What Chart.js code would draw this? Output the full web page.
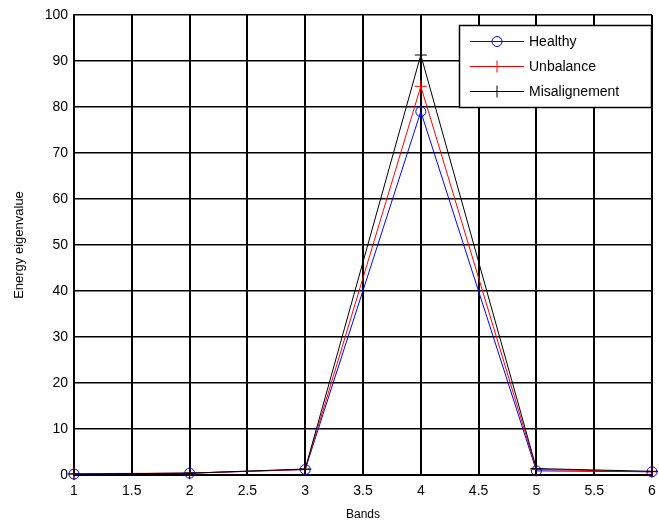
<!DOCTYPE html>
<html>
<head>
<meta charset="utf-8">
<script src="https://cdn.jsdelivr.net/npm/chart.js@4/dist/chart.umd.min.js"></script>
<style>
html,body{margin:0;padding:0;background:#fff;}
#wrap{width:659px;height:522px;position:relative;}
</style>
</head>
<body>
<div id="wrap"><canvas id="c" width="659" height="522"></canvas></div>
<script>
const bands = [1, 2, 3, 4, 5, 6];
const healthy = [0.2, 0.4, 1.2, 79.0, 0.9, 0.7];
const unbalance = [0.3, 0.4, 1.2, 84.5, 1.2, 0.7];
const misalignment = [0.2, 0.4, 1.3, 91.3, 1.4, 0.8];
const seriesNames = ['Healthy', 'Unbalance', 'Misalignement'];
const xTitle = 'Bands';
const yTitle = 'Energy eigenvalue';

const FONT = 'Liberation Sans, Arial, sans-serif';
const toXY = arr => arr.map((v, i) => ({x: bands[i], y: v}));

const legendPlugin = {
  id: 'boxLegend',
  afterDraw(chart) {
    const ctx = chart.ctx;
    const x0 = 459, y0 = 25, w = 192, h = 82;
    ctx.save();
    ctx.fillStyle = '#fff';
    ctx.fillRect(x0, y0, w, h);
    ctx.strokeStyle = '#000';
    ctx.lineWidth = 1.5;
    ctx.strokeRect(x0 + 0.5, y0 + 0.5, w, h);
    const rows = [41.5, 66.5, 91.5];
    chart.data.datasets.forEach((ds, i) => {
      const y = rows[i];
      ctx.strokeStyle = ds.borderColor;
      ctx.lineWidth = 1;
      ctx.beginPath();
      ctx.moveTo(470, y); ctx.lineTo(524, y); ctx.stroke();
      const mx = 497;
      if (ds.pointStyle === 'circle') {
        ctx.beginPath(); ctx.arc(mx, y, 5, 0, Math.PI * 2); ctx.stroke();
      } else {
        ctx.beginPath();
        ctx.moveTo(mx - 6, y); ctx.lineTo(mx + 6, y);
        ctx.moveTo(mx, y - 6); ctx.lineTo(mx, y + 6);
        ctx.stroke();
      }
      ctx.fillStyle = '#000';
      ctx.font = '14px ' + FONT;
      ctx.textBaseline = 'middle';
      ctx.textAlign = 'left';
      ctx.fillText(ds.label, 529, y + 1);
    });
    ctx.restore();
  }
};

new Chart(document.getElementById('c'), {
  type: 'line',
  data: {
    datasets: [
      {label: seriesNames[0], data: toXY(healthy), borderColor: '#0000ff', backgroundColor: 'rgba(0,0,0,0)',
       pointStyle: 'circle', pointRadius: 5, pointBorderColor: '#0000ff', pointBackgroundColor: 'rgba(0,0,0,0)', borderWidth: 1, pointBorderWidth: 1, order: 3},
      {label: seriesNames[1], data: toXY(unbalance), borderColor: '#ff0000', backgroundColor: 'rgba(0,0,0,0)',
       pointStyle: 'cross', pointRadius: 6, pointBorderColor: '#ff0000', borderWidth: 1, pointBorderWidth: 1, order: 2},
      {label: seriesNames[2], data: toXY(misalignment), borderColor: '#000000', backgroundColor: 'rgba(0,0,0,0)',
       pointStyle: 'cross', pointRadius: 6, pointBorderColor: '#000000', borderWidth: 1, pointBorderWidth: 1, order: 1}
    ]
  },
  options: {
    responsive: false,
    animation: false,
    clip: false,
    layout: {padding: {top: 15, right: 3, left: 0, bottom: 0}},
    plugins: {legend: {display: false}, tooltip: {enabled: false}},
    elements: {line: {tension: 0}},
    scales: {
      x: {
        type: 'linear', min: 1, max: 6,
        afterFit(s) { s.height = 47; s.paddingLeft = 0; s.paddingRight = 0; },
        ticks: {stepSize: 0.5, color: '#000', font: {family: FONT, size: 14}, padding: 8, maxRotation: 0,
                callback: v => String(v)},
        grid: {color: '#000', lineWidth: 2, drawTicks: false},
        border: {color: '#000', width: 2},
        title: {display: true, text: xTitle, color: '#000', font: {family: FONT, size: 12}, padding: {top: 3, bottom: 0}}
      },
      y: {
        min: 0, max: 100,
        afterFit(s) { s.width = 74; s.paddingTop = 0; s.paddingBottom = 0; },
        ticks: {stepSize: 10, color: '#000', font: {family: FONT, size: 14}, padding: 6},
        grid: {color: '#000', lineWidth: 1.5, drawTicks: false},
        border: {color: '#000', width: 2},
        title: {display: true, text: yTitle, color: '#000', font: {family: FONT, size: 13}, padding: {top: 12, bottom: 0}}
      }
    }
  },
  plugins: [legendPlugin]
});
</script>
</body>
</html>
